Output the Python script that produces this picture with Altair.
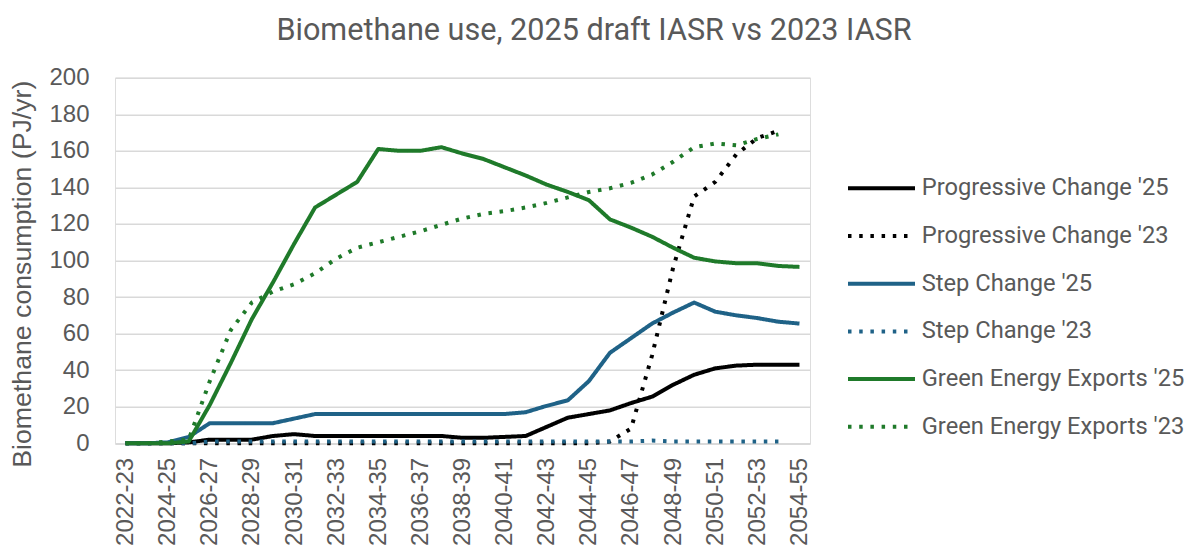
import altair as alt
import pandas as pd

categories = ["2022-23", "2023-24", "2024-25", "2025-26", "2026-27", "2027-28", "2028-29",
              "2029-30", "2030-31", "2031-32", "2032-33", "2033-34", "2034-35", "2035-36",
              "2036-37", "2037-38", "2038-39", "2039-40", "2040-41", "2041-42", "2042-43",
              "2043-44", "2044-45", "2045-46", "2046-47", "2047-48", "2048-49", "2049-50",
              "2050-51", "2051-52", "2052-53", "2053-54", "2054-55"]
tick_labels = ["2022-23", "2024-25", "2026-27", "2028-29", "2030-31", "2032-33", "2034-35",
               "2036-37", "2038-39", "2040-41", "2042-43", "2044-45", "2046-47", "2048-49",
               "2050-51", "2052-53", "2054-55"]

prog25 = [0, 0, 0, 0.5, 2, 2, 2, 4, 5, 4, 4, 4, 4, 4, 4, 4, 3, 3, 3.5, 4, 9, 14, 16, 18,
          22, 25.5, 32, 37.5, 41, 42.5, 43, 43, 43]
prog23 = [0, 0, 0, 0, 0, 0, 0, 0, 0, 0, 0, 0, 0, 0, 0, 0, 0, 0, 0, 0, 0, 0, 0, 1,
          8, 48, 96, 135, 143, 158, 167, 171]
step25 = [0, 0, 0.5, 3.5, 11, 11, 11, 11, 13.5, 16, 16, 16, 16, 16, 16, 16, 16, 16, 16, 17,
          20.5, 23.5, 34, 49.5, 57.5, 65.5, 71.5, 77, 72, 70, 68.5, 66.5, 65.5]
step23 = [0, 0, 0, 0, 1, 1, 1, 1, 1, 1, 1, 1, 1, 1, 1, 1, 1, 1, 1, 1, 1, 1, 1, 1,
          1, 1.5, 1, 1, 1, 1, 1, 1]
green25 = [0, 0, 0, 1, 21, 44, 68, 88, 109, 129, 136, 143, 161, 160, 160, 162, 158.5, 155.5,
           151, 146.5, 141.5, 137.5, 133, 122.5, 118, 113, 107, 101.5, 99.5, 98.5, 98.5, 97, 96.5]
green23 = [0, 0, 1, 2, 34, 62, 77, 83, 87, 93, 101, 107, 110, 113, 116, 119.5, 123, 125.5,
           127, 129, 131.5, 134.5, 137.5, 139.5, 142.5, 147, 154, 162, 164, 163, 166.5, 169]

series_names = ["Progressive Change '25", "Progressive Change '23", "Step Change '25",
                "Step Change '23", "Green Energy Exports '25", "Green Energy Exports '23"]
series_values = [prog25, prog23, step25, step23, green25, green23]
series_colors = ["#000000", "#000000", "#1F6287", "#1F6287", "#1F7A2A", "#1F7A2A"]
solid = [1, 0]
dotted = [3.5, 7.7]
series_dash = [solid, dotted, solid, dotted, solid, dotted]

rows = []
for name, vals in zip(series_names, series_values):
    for cat, v in zip(categories, vals):
        rows.append({"year": cat, "value": v, "series": name})
df = pd.DataFrame(rows)

grey = "#595959"
axis_font = "Liberation Sans"
text_font = "Roboto"


def make_legend():
    return alt.Legend(title=None, orient="none", legendX=731, legendY=98.6,
                      symbolType="stroke", symbolSize=4489, symbolStrokeWidth=4,
                      clipHeight=24, rowPadding=23.7, labelOffset=4.7,
                      labelFontSize=23.7, labelFont=text_font, labelColor=grey,
                      padding=0, symbolOffset=0, labelLimit=400)


chart = alt.Chart(df).mark_line(strokeWidth=4, strokeJoin="round", strokeCap="butt").encode(
    x=alt.X("year:O",
            scale=alt.Scale(type="point", domain=categories, padding=0.5),
            axis=alt.Axis(values=tick_labels, labelAngle=270, labelFontSize=24, labelFont=axis_font,
                          labelColor=grey, ticks=False, tickSize=0, labelPadding=14,
                          domain=True, domainColor="#d9d9d9", domainWidth=1.5, grid=False,
                          title=None, labelOverlap=False)),
    y=alt.Y("value:Q",
            scale=alt.Scale(domain=[0, 200], nice=False),
            axis=alt.Axis(values=[0, 20, 40, 60, 80, 100, 120, 140, 160, 180, 200],
                          grid=True, gridColor="#d9d9d9", gridWidth=1.5, domain=False,
                          ticks=False, tickSize=0, labelPadding=26, labelFontSize=24,
                          labelFont=axis_font, labelColor=grey,
                          title="Biomethane consumption (PJ/yr)", titleFontSize=26.7,
                          titleFont=axis_font, titleFontWeight="normal", titleColor=grey,
                          titleAngle=270, titleX=-93, titleY=196, titleAlign="center",
                          titleBaseline="middle")),
    color=alt.Color("series:N",
                    scale=alt.Scale(domain=series_names, range=series_colors),
                    legend=make_legend()),
    strokeDash=alt.StrokeDash("series:N",
                              scale=alt.Scale(domain=series_names, range=series_dash),
                              legend=make_legend()),
).properties(
    width=695,
    height=365.6,
    title=alt.TitleParams("Biomethane use, 2025 draft IASR vs 2023 IASR", fontSize=30.6,
                          font=text_font, color=grey, fontWeight="normal", anchor="middle",
                          dx=131.5, offset=19),
    autosize=alt.AutoSizeParams(type="none"),
    padding={"left": 115, "top": 77.7, "right": 386, "bottom": 107.7},
).configure_view(stroke=None).configure(background="white")

chart.save("out.html", embed_options={"renderer": "svg", "actions": False})
